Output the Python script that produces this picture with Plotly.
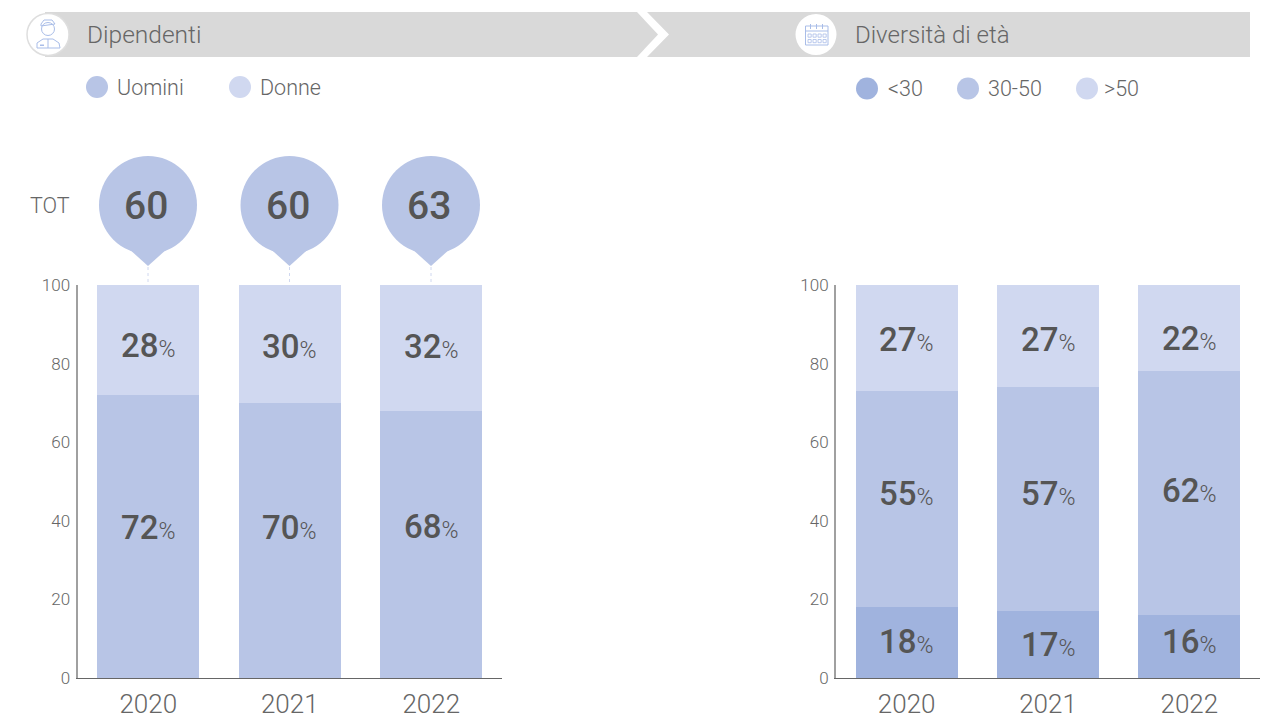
import plotly.graph_objects as go

W, H = 1271, 720
FONT = "Roboto"
years = ["2020", "2021", "2022"]
left_names = ["Uomini", "Donne"]
uomini = [72, 70, 68]
donne = [28, 30, 32]
totals = [60, 60, 63]
right_names = ["<30", "30-50", ">50"]
under30 = [18, 17, 16]
mid30_50 = [55, 57, 62]
over50 = [27, 27, 22]
yticks = [0, 20, 40, 60, 80, 100]

C1, C2, C3 = "#a0b3de", "#b8c5e6", "#d0d8f0"
TXT = "#555555"
SOFT = "#666666"
ICON = "#a9bde8"

def px(x): return x / W
def py(y): return 1 - y / H

fig = go.Figure()
shapes, ann = [], []

def label(xaxis, yaxis, idx, y, v, shift=0):
    ann.append(dict(xref=xaxis, yref=yaxis, x=idx, y=y, yshift=shift, showarrow=False,
                    text=f"{v}<span style='font-size:23px;font-weight:300'>%</span>",
                    font=dict(family=FONT, size=33, color=TXT, weight=500)))

def stack(xaxis, yaxis, series, names, colors, nudges):
    base = [0, 0, 0]
    for s, n, c, nd in zip(series, names, colors, nudges):
        fig.add_trace(go.Bar(x=years, y=s, name=n, marker=dict(color=c, line=dict(width=0)),
                             xaxis=xaxis, yaxis=yaxis, cliponaxis=False, showlegend=False))
        for i in range(len(years)):
            label(xaxis, yaxis, i, base[i] + s[i] / 2, s[i], nd[i])
            base[i] += s[i]

stack("x", "y", [uomini, donne], left_names, [C2, C3], [[9, 13, 18], [-5, -3, 1]])
stack("x2", "y2", [under30, mid30_50, over50], right_names, [C1, C2, C3],
      [[1, 0, 5], [6, 6, 3], [-1, -5, -10]])

axis_x = dict(type="category", range=[-0.5, 2.5], showline=True, linecolor="#666666", linewidth=1, ticks="",
              tickfont=dict(family=FONT, size=26, color=SOFT, weight=300), showgrid=False, zeroline=False,
              automargin=False, ticklabelstandoff=3)
axis_y = dict(range=[0, 100], tickvals=yticks, showline=True, linecolor="#a0a0a0", linewidth=2,
              ticks="", tickfont=dict(family=FONT, size=17, color=SOFT, weight=300), showgrid=False,
              zeroline=False, ticklabelstandoff=2, automargin=False)
dom_y = [py(678), py(285)]

def path_shape(d, fill=None, line=None, width=1, layer="above"):
    # d: list of ("M"/"L"/"Z", x, y) in page pixels
    s = ""
    for seg in d:
        s += "Z" if seg[0] == "Z" else f"{seg[0]}{px(seg[1])},{py(seg[2])} "
    shapes.append(dict(type="path", xref="paper", yref="paper", path=s, layer=layer,
                       fillcolor=fill or "rgba(0,0,0,0)",
                       line=dict(color=line, width=width) if line else dict(width=0)))

# header bands
path_shape([("M", 45, 12), ("L", 637, 12), ("L", 658, 34.5), ("L", 637, 57), ("L", 45, 57), ("Z",)], fill="#d9d9d9", layer="below")
path_shape([("M", 647, 12), ("L", 1250, 12), ("L", 1250, 57), ("L", 647, 57), ("L", 669, 34.5), ("Z",)], fill="#d9d9d9", layer="below")

def circle(cx, cy, r, color, line=None, width=1):
    shapes.append(dict(type="circle", xref="paper", yref="paper", x0=px(cx - r), x1=px(cx + r),
                       y0=py(cy + r), y1=py(cy - r), fillcolor=color,
                       line=dict(color=line, width=width) if line else dict(width=0)))

def rect(x0, y0, x1, y1, fill=None, line=None, width=1):
    path_shape([("M", x0, y0), ("L", x1, y0), ("L", x1, y1), ("L", x0, y1), ("Z",)], fill=fill, line=line, width=width)

def text(x, y, t, size, color=TXT, anchor="left", weight=300):
    ann.append(dict(xref="paper", yref="paper", x=px(x), y=py(y), text=t, showarrow=False,
                    xanchor=anchor, yanchor="middle",
                    font=dict(family=FONT, size=size, color=color, weight=weight)))

circle(48, 34.5, 21, "#ffffff", "#dedede", 1.5)
circle(816, 34.5, 20.5, "#ffffff")

# person icon
circle(48, 29, 6.5, "#ffffff", ICON)
path_shape([("M", 41, 24), ("L", 44, 20), ("L", 52, 20), ("L", 55, 24), ("L", 41, 26), ("Z",)], line=ICON)
path_shape([("M", 37, 48), ("L", 37, 43), ("L", 43, 39), ("L", 53, 39), ("L", 59, 43), ("L", 60, 48), ("Z",)], line=ICON)
path_shape([("M", 48, 39), ("L", 48, 48)], line=ICON)
rect(40, 44.5, 44, 46, fill=ICON)
# calendar icon
rect(805.5, 26, 828, 45, line=ICON)
path_shape([("M", 805.5, 31), ("L", 828, 31)], line=ICON)
for rx in (810.5, 816.5, 822.5):
    path_shape([("M", rx, 24), ("L", rx, 29)], line=ICON)
for ry in (34, 39.5):
    for rx in (808, 813, 818, 823):
        rect(rx, ry, rx + 3.2, ry + 3.2, line=ICON, width=0.8)

text(85, 34.5, "Dipendenti", 24.5, SOFT)
text(853, 34.5, "Diversità di età", 24, SOFT)

for cx, c, tx, n in [(97, C2, 115, left_names[0]), (240, C3, 257.5, left_names[1])]:
    circle(cx, 87, 11, c)
    text(tx, 87.5, n, 21.5, SOFT)
for cx, c, tx, n in [(867, C1, 886, right_names[0]), (968, C2, 986, right_names[1]), (1087, C3, 1102, right_names[2])]:
    circle(cx, 88.5, 11, c)
    text(tx, 88.5, n.replace("<", "&lt;"), 21.5, SOFT)

text(28, 205.5, "TOT", 21.5, SOFT)

# total bubbles
for cx, t in zip([148, 289.5, 431], totals):
    circle(cx, 205, 49, C2)
    path_shape([("M", cx - 20, 248), ("L", cx, 266), ("L", cx + 20, 248), ("Z",)], fill=C2)
    shapes.append(dict(type="line", xref="paper", yref="paper", x0=px(cx), x1=px(cx), y0=py(267), y1=py(285),
                       line=dict(color=C3, width=1, dash="dot")))
    text(cx - 2, 206, str(t), 39, TXT, "center", 500)

fig.update_layout(
    width=W, height=H, margin=dict(l=0, r=0, t=0, b=0, autoexpand=False), barmode="stack", bargap=0.28,
    paper_bgcolor="white", plot_bgcolor="white", showlegend=False, autosize=False,
    xaxis=dict(axis_x, domain=[px(77.5), px(502)]),
    yaxis=dict(axis_y, domain=dom_y),
    xaxis2=dict(axis_x, domain=[px(836), px(1260)], anchor="y2"),
    yaxis2=dict(axis_y, domain=dom_y, anchor="x2"),
    shapes=shapes, annotations=ann,
)
fig.write_html("out.html", config={"displayModeBar": False},
               post_script="document.body.style.margin='0';document.documentElement.style.overflow='hidden';")
